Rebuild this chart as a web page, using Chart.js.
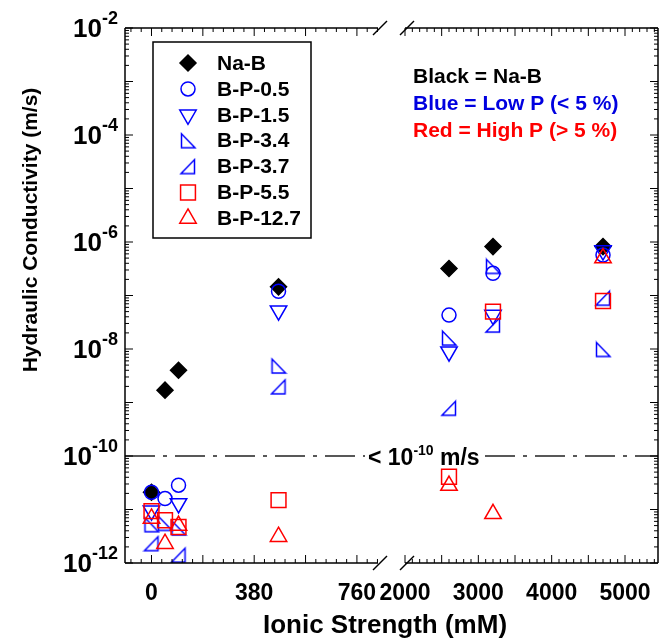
<!DOCTYPE html>
<html>
<head>
<meta charset="utf-8">
<script src="https://cdn.jsdelivr.net/npm/chart.js@4.4.1/dist/chart.umd.min.js"></script>
<style>
  html, body { margin: 0; padding: 0; background: #fff; }
</style>
</head>
<body>
<canvas id="kChart" width="662" height="644"></canvas>
<script>
// ionic strength (mM) for the two parts of the broken axis
const ionicLow = [0, 50, 100, 470];
const ionicHigh = [2600, 3200, 4700];

// hydraulic conductivity (m/s), null = no point
const kNaB_low = [2.1e-11, 1.7e-9, 4.0e-9, 1.45e-7];
const kNaB_high = [3.2e-7, 8.2e-7, 8.2e-7];
const kBP05_low = [2.1e-11, 1.6e-11, 2.85e-11, 1.2e-7];
const kBP05_high = [4.3e-8, 2.6e-7, 5.7e-7];
const kBP15_low = [9.5e-12, null, 1.3e-11, 5.2e-8];
const kBP15_high = [8.9e-9, 4.3e-8, 6.9e-7];
const kBP34_low = [5.2e-12, 5.5e-12, 4.5e-12, 4.8e-9];
const kBP34_high = [1.6e-8, 3.5e-7, 9.8e-9];
const kBP37_low = [2.3e-12, null, 1.4e-12, 1.96e-9];
const kBP37_high = [7.8e-10, 2.8e-8, 8.9e-8];
const kBP55_low = [9.3e-12, 6.3e-12, 4.7e-12, 1.5e-11];
const kBP55_high = [4.1e-11, 5.0e-8, 7.9e-8];
const kBP127_low = [6.8e-12, 2.3e-12, 5.0e-12, 3.1e-12];
const kBP127_high = [2.8e-11, 8.3e-12, 5.0e-7];

const seriesNames = ['Na-B', 'B-P-0.5', 'B-P-1.5', 'B-P-3.4', 'B-P-3.7', 'B-P-5.5', 'B-P-12.7'];
const seriesLow = [kNaB_low, kBP05_low, kBP15_low, kBP34_low, kBP37_low, kBP55_low, kBP127_low];
const seriesHigh = [kNaB_high, kBP05_high, kBP15_high, kBP34_high, kBP37_high, kBP55_high, kBP127_high];

const xTicksLow = [0, 380, 760];
const xTicksHigh = [2000, 3000, 4000, 5000];
const yTickExps = [-12, -10, -8, -6, -4, -2];
const limitK = 1e-10;

const notes = ['Black = Na-B', 'Blue = Low P (< 5 %)', 'Red = High P (> 5 %)'];

const BLUE = '#0000ff';
const RED = '#ff0000';
const FONT = '"Liberation Sans", Arial, sans-serif';

// right triangles drawn on a small canvas, used as point style
function rightTri(corner) {
    const c = document.createElement('canvas');
    c.width = 18; c.height = 18;
    const g = c.getContext('2d');
    g.strokeStyle = BLUE;
    g.lineWidth = 1.5;
    g.beginPath();
    if (corner === 'left') {
        g.moveTo(2.5, 2); g.lineTo(2.5, 16); g.lineTo(16, 16);
    } else {
        g.moveTo(15.5, 2); g.lineTo(15.5, 16); g.lineTo(2, 16);
    }
    g.closePath();
    g.stroke();
    return c;
}

const markers = [
    { style: 'rectRot', radius: 8, color: '#000', fill: '#000' },
    { style: 'circle', radius: 7, color: BLUE },
    { style: 'triangle', radius: 9.5, rotation: 180, color: BLUE },
    { style: rightTri('left'), radius: 8, color: BLUE },
    { style: rightTri('right'), radius: 8, color: BLUE },
    { style: 'rect', radius: 10.5, color: RED },
    { style: 'triangle', radius: 9.5, color: RED }
];

const datasets = [];
seriesNames.forEach(function (name, i) {
    const m = markers[i];
    const common = {
        label: name,
        showLine: false,
        pointStyle: m.style,
        pointRadius: m.radius,
        pointHoverRadius: m.radius,
        pointRotation: m.rotation || 0,
        pointBorderColor: m.color,
        pointBackgroundColor: m.fill || 'rgba(0,0,0,0)',
        pointBorderWidth: 1.5,
        order: seriesNames.length - i // later series on top
    };
    datasets.push(Object.assign({}, common, {
        xAxisID: 'xL',
        data: ionicLow.map((x, j) => ({ x: x, y: seriesLow[i][j] })).filter(p => p.y !== null)
    }));
    datasets.push(Object.assign({}, common, {
        xAxisID: 'xR',
        data: ionicHigh.map((x, j) => ({ x: x, y: seriesHigh[i][j] })).filter(p => p.y !== null)
    }));
});

function line(ctx, x1, y1, x2, y2) {
    ctx.beginPath();
    ctx.moveTo(x1, y1);
    ctx.lineTo(x2, y2);
    ctx.stroke();
}

const decor = {
    id: 'decor',
    beforeDatasetsDraw(chart) {
        const { ctx, chartArea: a, scales } = chart;
        const yy = scales.y.getPixelForValue(limitK);
        ctx.save();
        ctx.strokeStyle = '#222';
        ctx.lineWidth = 1.5;
        ctx.setLineDash([30, 8, 4, 8]);
        line(ctx, a.left, yy, a.left + 240, yy);
        line(ctx, a.left + 360, yy, a.right, yy);
        ctx.setLineDash([]);

        ctx.fillStyle = '#000';
        ctx.textAlign = 'left';
        ctx.textBaseline = 'alphabetic';
        let x = a.left + 243;
        const base = yy + 9;
        ctx.font = 'bold 23px ' + FONT;
        ctx.fillText('< 10', x, base);
        x += ctx.measureText('< 10').width;
        ctx.font = 'bold 14px ' + FONT;
        ctx.fillText('-10', x, base - 10);
        x += ctx.measureText('-10').width;
        ctx.font = 'bold 23px ' + FONT;
        ctx.fillText(' m/s', x, base);
        ctx.restore();
    },
    afterDraw(chart) {
        const { ctx, chartArea: a, scales } = chart;
        const xL = scales.xL, xR = scales.xR, y = scales.y;
        ctx.save();
        ctx.strokeStyle = '#000';
        ctx.lineWidth = 1.5;

        // frame with the break gap
        line(ctx, a.left, a.top, a.left, a.bottom);
        line(ctx, a.right, a.top, a.right, a.bottom);
        [a.top, a.bottom].forEach(function (yy) {
            line(ctx, xL.left, yy, xL.right, yy);
            line(ctx, xR.left, yy, xR.right, yy);
            [xL.right + 2, xR.left + 2].forEach(function (bx) {
                line(ctx, bx - 7, yy + 7, bx + 7, yy - 7);
            });
        });

        // inward ticks
        ctx.lineWidth = 1;
        function xTicks(sc, from, to, step, major) {
            for (let v = from; v <= to; v += step) {
                const px = sc.getPixelForValue(v);
                const len = v % major === 0 ? 8 : 4;
                line(ctx, px, a.bottom, px, a.bottom - len);
                line(ctx, px, a.top, px, a.top + len);
            }
        }
        xTicks(xL, -76, 836, 38, 190);
        xTicks(xR, 2000, 5400, 100, 500);
        for (let e = -12; e <= -2; e++) {
            for (let k = 1; k <= 9; k++) {
                if (e === -2 && k > 1) break;
                const py = y.getPixelForValue(k * Math.pow(10, e));
                const len = k === 1 ? 8 : 4;
                line(ctx, a.left, py, a.left + len, py);
                line(ctx, a.right, py, a.right - len, py);
            }
        }

        // y tick labels 10^n
        ctx.fillStyle = '#000';
        ctx.textBaseline = 'alphabetic';
        ctx.textAlign = 'left';
        yTickExps.forEach(function (e) {
            const py = y.getPixelForValue(Math.pow(10, e));
            const sup = '-' + Math.abs(e);
            ctx.font = 'bold 18px ' + FONT;
            const supW = ctx.measureText(sup).width;
            ctx.font = 'bold 26px ' + FONT;
            const baseW = ctx.measureText('10').width;
            const right = a.left - 7;
            ctx.fillText('10', right - supW - baseW, py + 9);
            ctx.font = 'bold 18px ' + FONT;
            ctx.fillText(sup, right - supW, py - 4);
        });

        // axis titles
        ctx.textAlign = 'center';
        ctx.textBaseline = 'middle';
        ctx.font = 'bold 26px ' + FONT;
        ctx.fillText('Ionic Strength (mM)', 385, 626);
        ctx.save();
        ctx.translate(31, 230);
        ctx.rotate(-Math.PI / 2);
        ctx.font = 'bold 21px ' + FONT;
        ctx.fillText('Hydraulic Conductivity (m/s)', 0, 0);
        ctx.restore();

        // legend box
        const lx = a.left + 28, ly = a.top + 14, lw = 158, lh = 196;
        ctx.textAlign = 'left';
        ctx.lineWidth = 1.5;
        ctx.strokeStyle = '#000';
        ctx.strokeRect(lx, ly, lw, lh);
        ctx.font = 'bold 21px ' + FONT;
        ctx.textBaseline = 'middle';
        seriesNames.forEach(function (name, i) {
            const m = markers[i];
            const cy = ly + 21 + i * 25.9;
            ctx.strokeStyle = m.color;
            ctx.fillStyle = m.fill || 'rgba(0,0,0,0)';
            ctx.lineWidth = 1.5;
            Chart.helpers.drawPoint(ctx, {
                pointStyle: m.style, radius: m.radius, rotation: m.rotation || 0, borderWidth: 1.5
            }, lx + 35, cy);
            ctx.fillStyle = '#000';
            ctx.fillText(name, lx + 64, cy + 1);
        });

        // colour notes
        const noteColors = ['#000', '#0000e0', RED];
        ctx.textBaseline = 'alphabetic';
        notes.forEach(function (t, i) {
            ctx.fillStyle = noteColors[i];
            ctx.fillText(t, a.left + 288, a.top + 55 + i * 27);
        });
        ctx.restore();
    }
};

const tickFont = { family: FONT, size: 23, weight: 'bold' };
const plainLabel = v => String(v);
// fixed box sizes, no label overhang padding (keeps the chart area 125..658)
const fitX = s => { s.height = 81; s.paddingLeft = 0; s.paddingRight = 0; };

new Chart(document.getElementById('kChart'), {
    type: 'scatter',
    data: { datasets: datasets },
    options: {
        responsive: false,
        animation: false,
        events: [],
        layout: { autoPadding: false, padding: { top: 28, right: 4, left: 0, bottom: 0 } },
        plugins: { legend: { display: false }, tooltip: { enabled: false } },
        scales: {
            xL: {
                type: 'linear', position: 'bottom', stack: 'ionic', stackWeight: 253,
                min: -98, max: 838,
                grid: { display: false }, border: { display: false },
                afterBuildTicks: s => { s.ticks = xTicksLow.map(v => ({ value: v })); },
                afterFit: fitX,
                ticks: { autoSkip: false, maxRotation: 0, padding: 9, color: '#000', font: tickFont, callback: plainLabel }
            },
            xGap: {
                type: 'linear', position: 'bottom', stack: 'ionic', stackWeight: 27,
                min: 0, max: 1,
                grid: { display: false }, border: { display: false },
                ticks: { display: false },
                afterFit: fitX
            },
            xR: {
                type: 'linear', position: 'bottom', stack: 'ionic', stackWeight: 253,
                min: 2000, max: 5450,
                grid: { display: false }, border: { display: false },
                afterBuildTicks: s => { s.ticks = xTicksHigh.map(v => ({ value: v })); },
                afterFit: fitX,
                ticks: { autoSkip: false, maxRotation: 0, padding: 9, color: '#000', font: tickFont, callback: plainLabel }
            },
            y: {
                type: 'logarithmic', position: 'left',
                min: 1e-12, max: 1e-2,
                grid: { display: false }, border: { display: false },
                ticks: { display: false },
                afterFit: s => { s.width = 125; s.paddingTop = 0; s.paddingBottom = 0; }
            }
        }
    },
    plugins: [decor]
});
</script>
</body>
</html>
